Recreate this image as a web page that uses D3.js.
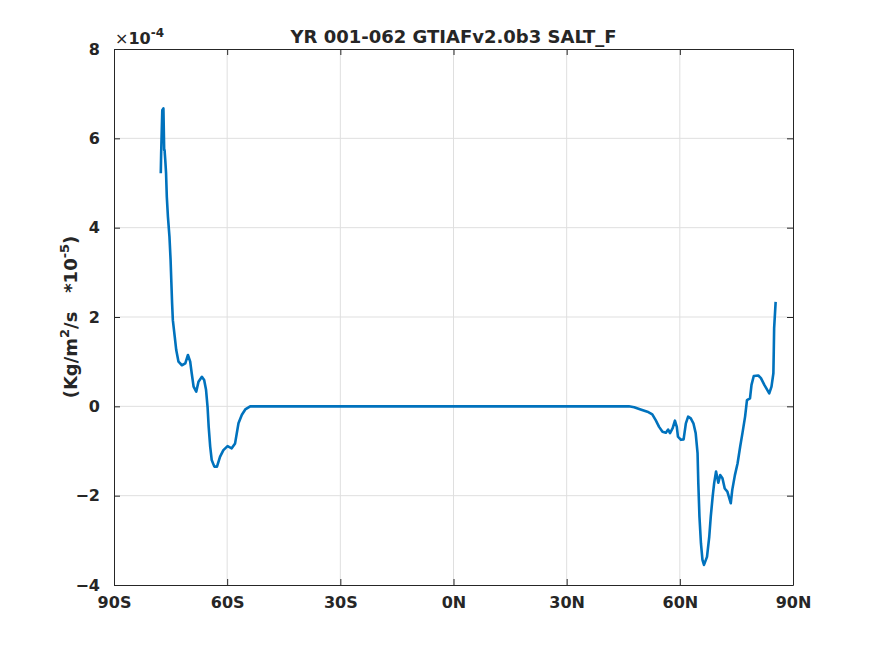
<!DOCTYPE html>
<html>
<head>
<meta charset="utf-8">
<script src="https://cdn.jsdelivr.net/npm/d3@7"></script>
<style>
  body { margin: 0; background: #fff; }
  text { font-family: "DejaVu Sans", sans-serif; font-weight: bold; fill: #262626; }
</style>
</head>
<body>
<div id="chart"></div>
<script>
// latitude (deg) and SALT_F (units of 1e-4)
var lats = [-77.6, -77.5, -77.2, -76.9, -76.7, -76.6, -76.4, -76.2, -76.0, -75.7, -75.3, -75.0, -74.8, -74.6, -74.4,
  -73.9, -73.5, -72.9, -72.0, -71.1, -70.4, -69.8, -69.4, -68.9, -68.2, -67.6, -66.7, -66.1, -65.6, -65.2,
  -64.9, -64.5, -64.1, -63.4, -62.7, -61.9, -61.0, -59.9, -58.8, -57.9, -57.0, -56.1, -55.2, -53.9, -50, -30,
  0, 30, 45, 46.5, 47.9, 49.6, 51.4, 52.7, 53.6, 54.5, 55.4, 56.3, 56.9, 57.4, 58.1, 58.7, 59.2, 59.5,
  60.3, 61.0, 61.6, 62.2, 62.9, 63.6, 64.2, 64.7, 64.9, 65.2, 65.6, 66.0, 66.4, 67.2, 67.8, 68.2, 68.7,
  69.1, 69.6, 70.2, 70.7, 71.3, 71.9, 72.6, 73.5, 73.9, 74.6, 75.3, 76.0, 76.6, 77.3, 77.8, 78.6, 79.0,
  79.6, 80.8, 81.5, 82.4, 83.7, 84.3, 84.8, 84.9, 85.0, 85.4];
var salt = [5.22, 5.66, 6.63, 6.67, 5.74, 5.74, 5.5, 5.22, 4.69, 4.24, 3.80, 3.28, 2.79, 2.31, 1.93,
  1.56, 1.26, 1.00, 0.92, 0.96, 1.15, 1.00, 0.74, 0.44, 0.33, 0.55, 0.66, 0.59, 0.37, -0.01,
  -0.46, -0.90, -1.20, -1.35, -1.35, -1.13, -0.98, -0.89, -0.94, -0.83, -0.38, -0.19, -0.07, 0, 0, 0,
  0, 0, 0, 0, -0.02, -0.07, -0.12, -0.18, -0.31, -0.46, -0.57, -0.59, -0.52, -0.60, -0.49, -0.32, -0.46, -0.68,
  -0.75, -0.74, -0.38, -0.23, -0.27, -0.38, -0.60, -1.05, -1.72, -2.47, -3.07, -3.44, -3.55, -3.37, -2.92, -2.47, -2.02,
  -1.72, -1.46, -1.71, -1.54, -1.61, -1.84, -1.91, -2.17, -1.87, -1.54, -1.28, -0.90, -0.60, -0.23, 0.14, 0.18, 0.48,
  0.68, 0.69, 0.63, 0.48, 0.29, 0.44, 0.74, 1.22, 1.75, 2.34];

var xTicks = [-90, -60, -30, 0, 30, 60, 90];
var xTickLabels = ["90S", "60S", "30S", "0N", "30N", "60N", "90N"];
var yTicks = [-4, -2, 0, 2, 4, 6, 8];
var titleText = "YR 001-062 GTIAFv2.0b3 SALT_F";

var W = 875, H = 656;
var margin = {top: 49, right: 82, bottom: 71, left: 114};
var w = W - margin.left - margin.right,
    h = H - margin.top - margin.bottom;

var svg = d3.select("#chart").append("svg")
  .attr("width", W)
  .attr("height", H);
var g = svg.append("g")
  .attr("transform", "translate(" + margin.left + "," + margin.top + ")");

var x = d3.scaleLinear().domain([-90, 90]).range([0, w]);
var y = d3.scaleLinear().domain([-4, 8]).range([h, 0]);

// grid
g.append("g").selectAll("line")
  .data(xTicks.slice(1, -1))
  .enter().append("line")
  .attr("x1", function (d) { return x(d); })
  .attr("x2", function (d) { return x(d); })
  .attr("y1", 0).attr("y2", h)
  .style("stroke", "#dfdfdf").style("stroke-width", 1);
g.append("g").selectAll("line")
  .data(yTicks.slice(1, -1))
  .enter().append("line")
  .attr("y1", function (d) { return y(d); })
  .attr("y2", function (d) { return y(d); })
  .attr("x1", 0).attr("x2", w)
  .style("stroke", "#dfdfdf").style("stroke-width", 1);

// axes (ticks inward, box on)
var tl = 6;
var xb = g.append("g").attr("transform", "translate(0," + h + ")")
  .call(d3.axisBottom(x).tickValues(xTicks).tickSizeInner(-tl).tickSizeOuter(0).tickPadding(12)
    .tickFormat(function (d, i) { return xTickLabels[i]; }));
var xt = g.append("g")
  .call(d3.axisTop(x).tickValues(xTicks).tickSizeInner(-tl).tickSizeOuter(0).tickFormat(""));
var yl = g.append("g")
  .call(d3.axisLeft(y).tickValues(yTicks).tickSizeInner(-tl).tickSizeOuter(0).tickPadding(14));
var yr = g.append("g").attr("transform", "translate(" + w + ",0)")
  .call(d3.axisRight(y).tickValues(yTicks).tickSizeInner(-tl).tickSizeOuter(0).tickFormat(""));

[xb, xt, yl, yr].forEach(function (a) {
  a.select(".domain").style("stroke", "#262626").style("stroke-width", 1);
  a.selectAll(".tick line").style("stroke", "#262626");
  a.selectAll("text").style("font-family", "DejaVu Sans").style("font-weight", "bold")
    .style("font-size", "16px").style("fill", "#262626");
});
xb.selectAll("text").attr("dy", "0.71em");

// data line
var line = d3.line()
  .x(function (d, i) { return x(lats[i]); })
  .y(function (d) { return y(d); });
g.append("path")
  .datum(salt)
  .attr("d", line)
  .style("fill", "none")
  .style("stroke", "#0072BD")
  .style("stroke-width", 2.6)
  .style("stroke-linejoin", "round");

// exponent label
var ex = svg.append("text")
  .attr("x", margin.left + 1)
  .attr("y", margin.top - 5)
  .style("font-size", "16px");
ex.append("tspan").text("×").style("font-weight", "normal");
ex.append("tspan").text("10");
ex.append("tspan").text("-4").attr("dy", -7).style("font-size", "12px");

// title
svg.append("text")
  .attr("x", margin.left + w / 2)
  .attr("y", 43)
  .attr("text-anchor", "middle")
  .style("font-size", "18px")
  .text(titleText);

// y label
var ylab = svg.append("text")
  .attr("transform", "translate(77," + (margin.top + h / 2) + ") rotate(-90)")
  .attr("text-anchor", "middle")
  .style("font-size", "18px");
ylab.append("tspan").text("(Kg/m");
ylab.append("tspan").text("2").attr("dy", -8).style("font-size", "13px");
ylab.append("tspan").text("/s").attr("dy", 8);
ylab.append("tspan").text("\u00a0\u00a0\u00a0*10");
ylab.append("tspan").text("-5").attr("dy", -8).style("font-size", "13px");
ylab.append("tspan").text(")").attr("dy", 8);
</script>
</body>
</html>
